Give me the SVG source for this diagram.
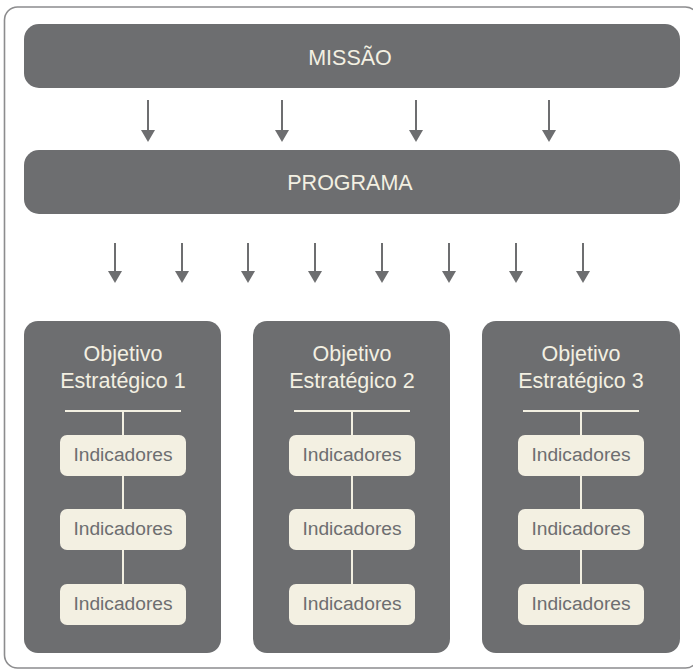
<svg xmlns="http://www.w3.org/2000/svg" width="693" height="670" viewBox="0 0 693 670">
  <defs>
    <style>
      .frame { fill: #ffffff; stroke: #8c8c8e; stroke-width: 1.6; }
      .bar { fill: #6d6e70; }
      .obj { fill: #6d6e70; }
      .ind { fill: #f3f0e2; }
      .light { fill: #f3f0e2; font-family: "Liberation Sans", Arial, sans-serif; font-size: 21.5px; text-anchor: middle; }
      .dark { fill: #6d6e70; font-family: "Liberation Sans", Arial, sans-serif; font-size: 19.2px; text-anchor: middle; }
      .tree { stroke: #f3f0e2; stroke-width: 2; fill: none; }
      .shaft { stroke: #6d6e70; stroke-width: 2; }
      .tip { fill: #6d6e70; }
    </style>
  </defs>

  <!-- outer frame -->
  <rect class="frame" x="4.5" y="7" width="694" height="661" rx="13"/>

  <g id="missao">
    <rect class="bar" x="24" y="24" width="656" height="64" rx="15"/>
    <text class="light" x="350" y="65">MISSÃO</text>
  </g>

  <g id="programa">
    <rect class="bar" x="24" y="150" width="656" height="64" rx="15"/>
    <text class="light" x="350" y="190">PROGRAMA</text>
  </g>

  <g id="connectors">
    <!-- missão to programa -->
    <g class="shaft">
      <line x1="148" y1="100" x2="148" y2="131"/>
      <line x1="282" y1="100" x2="282" y2="131"/>
      <line x1="416" y1="100" x2="416" y2="131"/>
      <line x1="549" y1="100" x2="549" y2="131"/>
    </g>
    <g class="tip">
      <path d="M141,130 h14 l-7,12 z"/>
      <path d="M275,130 h14 l-7,12 z"/>
      <path d="M409,130 h14 l-7,12 z"/>
      <path d="M542,130 h14 l-7,12 z"/>
    </g>
    <!-- programa to objectives -->
    <g class="shaft">
      <line x1="115" y1="243" x2="115" y2="272"/>
      <line x1="182" y1="243" x2="182" y2="272"/>
      <line x1="248" y1="243" x2="248" y2="272"/>
      <line x1="315" y1="243" x2="315" y2="272"/>
      <line x1="382" y1="243" x2="382" y2="272"/>
      <line x1="449" y1="243" x2="449" y2="272"/>
      <line x1="516" y1="243" x2="516" y2="272"/>
      <line x1="583" y1="243" x2="583" y2="272"/>
    </g>
    <g class="tip">
      <path d="M108,271 h14 l-7,12 z"/>
      <path d="M175,271 h14 l-7,12 z"/>
      <path d="M241,271 h14 l-7,12 z"/>
      <path d="M308,271 h14 l-7,12 z"/>
      <path d="M375,271 h14 l-7,12 z"/>
      <path d="M442,271 h14 l-7,12 z"/>
      <path d="M509,271 h14 l-7,12 z"/>
      <path d="M576,271 h14 l-7,12 z"/>
    </g>
  </g>

  <g id="objetivo1">
    <rect class="obj" x="24" y="321" width="197" height="332" rx="14"/>
    <text class="light" x="123" y="361">Objetivo</text>
    <text class="light" x="123" y="388">Estratégico 1</text>
    <path class="tree" d="M65,411 H181 M123,411 V435 M123,476 V509 M123,550 V584"/>
    <rect class="ind" x="60" y="435" width="126" height="41" rx="7"/>
    <text class="dark" x="123" y="461">Indicadores</text>
    <rect class="ind" x="60" y="509" width="126" height="41" rx="7"/>
    <text class="dark" x="123" y="535">Indicadores</text>
    <rect class="ind" x="60" y="584" width="126" height="41" rx="7"/>
    <text class="dark" x="123" y="610">Indicadores</text>
  </g>

  <g id="objetivo2">
    <rect class="obj" x="253" y="321" width="197" height="332" rx="14"/>
    <text class="light" x="352" y="361">Objetivo</text>
    <text class="light" x="352" y="388">Estratégico 2</text>
    <path class="tree" d="M294,411 H410 M352,411 V435 M352,476 V509 M352,550 V584"/>
    <rect class="ind" x="289" y="435" width="126" height="41" rx="7"/>
    <text class="dark" x="352" y="461">Indicadores</text>
    <rect class="ind" x="289" y="509" width="126" height="41" rx="7"/>
    <text class="dark" x="352" y="535">Indicadores</text>
    <rect class="ind" x="289" y="584" width="126" height="41" rx="7"/>
    <text class="dark" x="352" y="610">Indicadores</text>
  </g>

  <g id="objetivo3">
    <rect class="obj" x="482" y="321" width="198" height="332" rx="14"/>
    <text class="light" x="581" y="361">Objetivo</text>
    <text class="light" x="581" y="388">Estratégico 3</text>
    <path class="tree" d="M523,411 H639 M581,411 V435 M581,476 V509 M581,550 V584"/>
    <rect class="ind" x="518" y="435" width="126" height="41" rx="7"/>
    <text class="dark" x="581" y="461">Indicadores</text>
    <rect class="ind" x="518" y="509" width="126" height="41" rx="7"/>
    <text class="dark" x="581" y="535">Indicadores</text>
    <rect class="ind" x="518" y="584" width="126" height="41" rx="7"/>
    <text class="dark" x="581" y="610">Indicadores</text>
  </g>
</svg>
